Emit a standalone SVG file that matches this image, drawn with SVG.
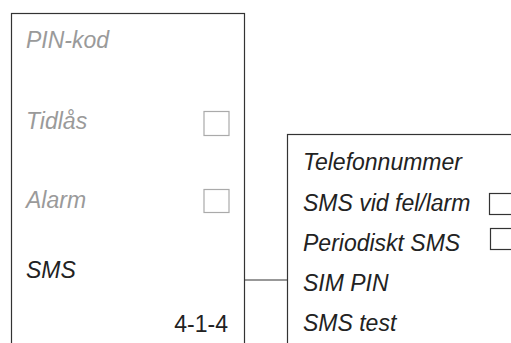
<svg xmlns="http://www.w3.org/2000/svg" width="511" height="343" viewBox="0 0 511 343">
<style>
.frame{fill:#fff;stroke:#333;stroke-width:1.2}
.t{font-family:"Liberation Sans",Arial,sans-serif;font-size:23px;font-style:italic}
.g{fill:#9a9a9a}
.d{fill:#222}
.cbg{fill:#fff;stroke:#aaa;stroke-width:1.2}
.cbd{fill:#fff;stroke:#333;stroke-width:1.2}
.conn{stroke:#333;stroke-width:1.2;fill:none}
</style>
<rect width="511" height="343" fill="#fff"/>
<g id="menu-left">
<rect class="frame" x="11.5" y="13.5" width="233" height="340"/>
<text class="t g" x="26" y="48">PIN-kod</text>
<text class="t g" x="26" y="129">Tidlås</text>
<rect class="cbg" x="204" y="111.5" width="25" height="24"/>
<text class="t g" x="26" y="208">Alarm</text>
<rect class="cbg" x="204" y="189.5" width="25" height="23"/>
<text class="t d" x="26" y="278">SMS</text>
<text x="228" y="332" text-anchor="end" font-family="'Liberation Sans',Arial,sans-serif" font-size="23" fill="#222">4-1-4</text>
</g>
<g id="connectors">
<line class="conn" x1="244" y1="280" x2="288" y2="280"/>
</g>
<g id="menu-sms">
<rect class="frame" x="287.5" y="134.5" width="240" height="220"/>
<text class="t d" x="303" y="170">Telefonnummer</text>
<text class="t d" x="303" y="211">SMS vid fel/larm</text>
<rect class="cbd" x="489.5" y="193.5" width="30" height="21"/>
<text class="t d" x="303" y="251">Periodiskt SMS</text>
<rect class="cbd" x="490.5" y="228.5" width="30" height="21"/>
<text class="t d" x="303" y="291">SIM PIN</text>
<text class="t d" x="303" y="331">SMS test</text>
</g>
</svg>
